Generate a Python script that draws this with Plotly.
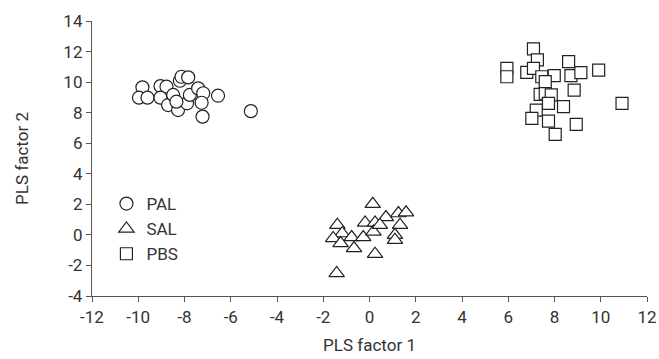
import plotly.graph_objects as go

# PAL (circles)
pal_x = [-9.82, -9.97, -9.60, -9.04, -8.78, -9.04, -8.71, -8.49, -8.28, -8.20, -8.13,
         -7.84, -7.89, -7.77, -7.41, -7.19, -7.26, -7.22, -6.55, -5.13, -8.35]
pal_y = [9.66, 8.98, 8.98, 9.74, 9.70, 8.98, 8.50, 9.16, 8.17, 10.09, 10.35,
         10.31, 8.61, 9.16, 9.59, 9.27, 8.65, 7.74, 9.11, 8.10, 8.72]

# SAL (triangles)
sal_x = [0.14, -1.39, -1.18, -1.57, -1.25, -0.77, -0.67, -0.27, -0.19, 0.24,
         0.17, 0.71, 1.25, 1.58, 1.32, 1.10, 1.10, 0.24, -1.42, 0.45]
sal_y = [2.02, 0.65, 0.10, -0.22, -0.55, -0.16, -0.88, -0.16, 0.80, 0.80,
         0.21, 1.15, 1.41, 1.46, 0.65, -0.01, -0.33, -1.25, -2.51, 0.65]

# PBS (squares)
pbs_x = [7.09, 7.26, 5.94, 5.94, 6.80, 7.09, 7.45, 7.99, 8.61, 8.71, 9.14, 9.91,
         8.85, 7.38, 7.60, 7.86, 7.74, 8.39, 7.21, 7.02, 7.74, 8.94, 8.03, 10.92, 7.60]
pbs_y = [12.17, 11.45, 10.90, 10.35, 10.64, 10.90, 10.35, 10.42, 11.34, 10.42, 10.62, 10.79,
         9.48, 9.20, 9.27, 9.16, 8.61, 8.39, 8.17, 7.63, 7.45, 7.24, 6.58, 8.61, 10.03]

x_ticks = [-12, -10, -8, -6, -4, -2, 0, 2, 4, 6, 8, 10, 12]
y_ticks = [-4, -2, 0, 2, 4, 6, 8, 10, 12, 14]

FONT = "Roboto, sans-serif"
TXT = "#333333"
AX = "#555555"
EDGE = "#222222"

fig = go.Figure()
fig.add_trace(go.Scatter(x=pal_x, y=pal_y, mode="markers", name="PAL",
                         marker=dict(symbol="circle", size=13, color="white",
                                     line=dict(color=EDGE, width=1.2))))
fig.add_trace(go.Scatter(x=sal_x, y=sal_y, mode="markers", name="SAL",
                         marker=dict(symbol="triangle-up", size=13.5, color="white",
                                     line=dict(color=EDGE, width=1.2))))
fig.add_trace(go.Scatter(x=pbs_x, y=pbs_y, mode="markers", name="PBS",
                         marker=dict(symbol="square", size=12, color="white",
                                     line=dict(color=EDGE, width=1.2))))

fig.update_layout(
    width=659, height=359,
    margin=dict(l=92, r=12, t=21, b=63, autoexpand=False),
    paper_bgcolor="white", plot_bgcolor="white",
    font=dict(family=FONT, size=17, color=TXT),
    showlegend=True,
    legend=dict(x=0.026, y=0.40, xanchor="left", yanchor="top",
                font=dict(size=17, color=TXT), bgcolor="rgba(0,0,0,0)",
                tracegroupgap=0),
    xaxis=dict(range=[-12, 12], tickvals=x_ticks, ticktext=[str(v) for v in x_ticks],
               automargin=False,
               showgrid=False, zeroline=False, showline=True, linecolor=AX, linewidth=1.3,
               ticks="outside", ticklen=5, tickcolor=AX, tickwidth=1.2,
               title=dict(text="PLS factor 1", font=dict(size=17, color=TXT), standoff=13)),
    yaxis=dict(range=[-4, 14], tickvals=y_ticks, ticktext=[str(v) for v in y_ticks],
               automargin=False,
               showgrid=False, zeroline=False, showline=True, linecolor=AX, linewidth=1.3,
               ticks="outside", ticklen=5, tickcolor=AX, tickwidth=1.2,
               title=dict(text="PLS factor 2", font=dict(size=17, color=TXT), standoff=30)),
)

fig.write_html("out.html", config={"displayModeBar": False},
               post_script="document.body.style.margin='0';")
